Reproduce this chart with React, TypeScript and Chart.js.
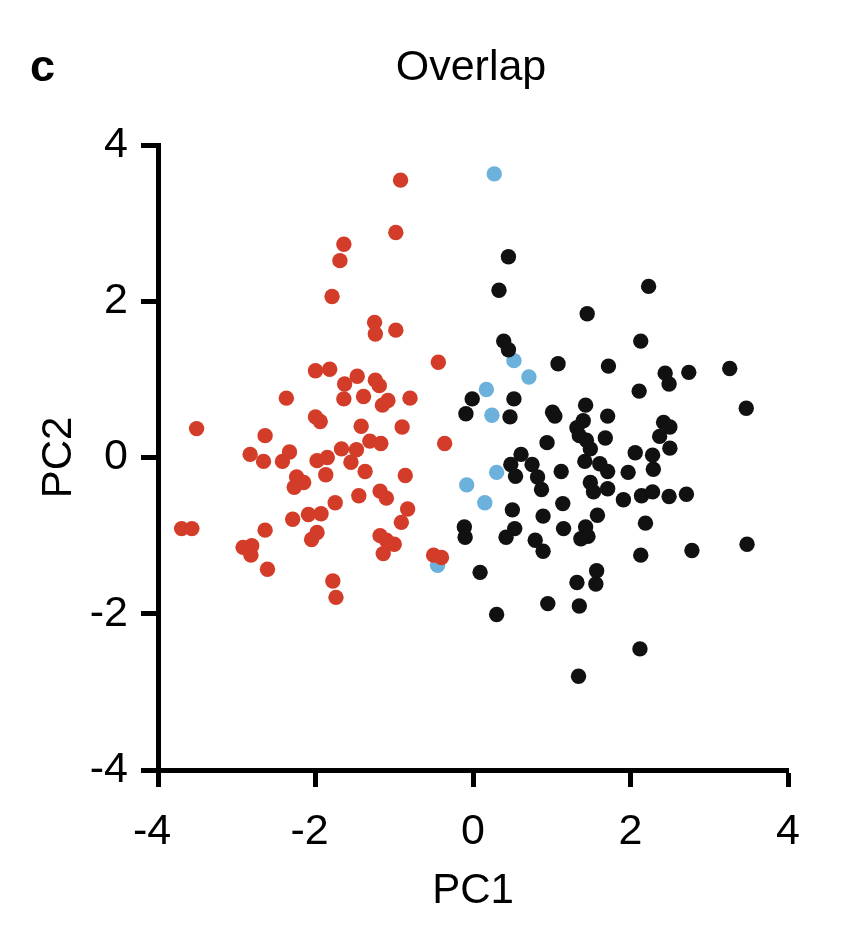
import React, { useEffect, useRef } from "react";
import { Chart, registerables } from "chart.js";

Chart.register(...registerables);

const TITLE = "Overlap";
const PANEL = "c";
const X_LABEL = "PC1";
const Y_LABEL = "PC2";
const TICKS = [-4, -2, 0, 2, 4];

const redX = [-0.92, -0.98, -1.64, -1.69, -1.79, -1.25, -1.24, -0.98, -0.44, -2.0, -1.82, -1.47, -1.63, -1.24, -1.19, -2.37, -1.64, -1.39, -1.08, -1.15, -0.8, -2.0, -1.94, -3.51, -1.42, -0.9, -2.64, -0.36, -1.31, -1.17, -1.67, -1.48, -2.83, -2.66, -2.33, -2.42, -1.98, -1.85, -1.55, -1.37, -1.87, -0.86, -2.24, -2.15, -2.27, -1.75, -1.45, -1.18, -1.1, -0.83, -0.91, -2.29, -2.09, -1.93, -1.98, -2.05, -3.7, -3.57, -2.64, -2.92, -2.81, -2.82, -2.61, -1.18, -1.1, -1.0, -1.14, -0.5, -0.4, -1.78, -1.74];
const redY = [3.55, 2.88, 2.73, 2.52, 2.06, 1.73, 1.58, 1.63, 1.22, 1.11, 1.13, 1.04, 0.94, 0.99, 0.92, 0.76, 0.75, 0.78, 0.73, 0.67, 0.76, 0.52, 0.46, 0.37, 0.4, 0.39, 0.28, 0.18, 0.21, 0.18, 0.11, 0.1, 0.04, -0.05, 0.07, -0.05, -0.04, 0.0, -0.06, -0.18, -0.22, -0.23, -0.25, -0.32, -0.38, -0.58, -0.49, -0.43, -0.52, -0.66, -0.83, -0.79, -0.73, -0.72, -0.96, -1.05, -0.91, -0.91, -0.93, -1.15, -1.13, -1.25, -1.43, -1.0, -1.06, -1.11, -1.23, -1.25, -1.28, -1.58, -1.79];

const blackX = [0.45, 0.33, 2.23, 1.45, 0.39, 0.45, 2.13, 1.08, 1.72, 2.44, 2.49, 2.74, 3.26, 2.11, 3.47, -0.01, 0.52, -0.09, 0.47, 1.01, 1.04, 1.43, 1.71, 2.42, 2.5, 2.37, 2.5, 1.4, 1.32, 1.35, 1.44, 1.49, 1.68, 0.94, 2.06, 2.28, 0.61, 0.48, 0.75, 0.54, 0.82, 0.87, 1.12, 1.42, 1.61, 1.71, 1.49, 1.53, 1.71, 1.97, 2.29, 1.91, 2.14, 2.28, 2.49, 2.71, 0.5, 0.89, 1.14, 1.58, 2.19, -0.11, -0.1, 0.53, 0.42, 0.79, 0.89, 1.15, 1.43, 1.46, 1.37, 2.13, 2.78, 3.48, 0.09, 1.57, 1.56, 1.32, 0.95, 1.35, 0.3, 2.12, 1.34];
const blackY = [2.57, 2.14, 2.19, 1.84, 1.49, 1.38, 1.49, 1.2, 1.17, 1.08, 0.94, 1.09, 1.14, 0.85, 0.63, 0.75, 0.75, 0.56, 0.52, 0.58, 0.53, 0.67, 0.53, 0.45, 0.39, 0.27, 0.12, 0.47, 0.38, 0.28, 0.22, 0.11, 0.25, 0.19, 0.06, 0.03, 0.04, -0.09, -0.09, -0.24, -0.25, -0.41, -0.18, -0.05, -0.08, -0.18, -0.32, -0.44, -0.4, -0.19, -0.15, -0.54, -0.49, -0.44, -0.5, -0.47, -0.67, -0.75, -0.59, -0.74, -0.84, -0.89, -1.02, -0.91, -1.02, -1.06, -1.2, -0.91, -0.89, -1.01, -1.04, -1.25, -1.19, -1.11, -1.47, -1.45, -1.62, -1.6, -1.87, -1.9, -2.01, -2.45, -2.8];

const blueX = [0.27, 0.52, 0.71, 0.17, 0.24, 0.3, -0.08, 0.15, -0.45];
const blueY = [3.63, 1.24, 1.03, 0.87, 0.54, -0.19, -0.35, -0.58, -1.38];

const RED = "#d43c2a";
const BLACK = "#111111";
const BLUE = "#6cb0dc";
const FONT = "'Liberation Sans', Arial, Helvetica, sans-serif";

const pts = (xs: number[], ys: number[]) => xs.map((x, i) => ({ x, y: ys[i] }));

const headerPlugin = {
  id: "header",
  afterDraw(chart: any) {
    const ctx = chart.ctx;
    ctx.save();
    ctx.fillStyle = "#000";
    ctx.textBaseline = "alphabetic";
    ctx.textAlign = "center";
    ctx.font = `43px ${FONT}`;
    ctx.fillText(TITLE, 471, 80);
    ctx.textAlign = "left";
    ctx.font = `bold 45px ${FONT}`;
    ctx.fillText(PANEL, 30, 81);
    ctx.restore();
  },
};

export default function App() {
  const ref = useRef<HTMLCanvasElement>(null);
  useEffect(() => {
    document.body.style.margin = "0";
    const canvas = ref.current!;
    const tickFont = { family: FONT, size: 43 };
    const chart = new Chart(canvas, {
      type: "scatter",
      data: {
        datasets: [
          { data: pts(redX, redY), backgroundColor: RED, pointRadius: 7.7, pointBorderWidth: 0 },
          { data: pts(blackX, blackY), backgroundColor: BLACK, pointRadius: 7.7, pointBorderWidth: 0 },
          { data: pts(blueX, blueY), backgroundColor: BLUE, pointRadius: 7.7, pointBorderWidth: 0 },
        ],
      },
      plugins: [headerPlugin],
      options: {
        animation: false,
        responsive: false,
        maintainAspectRatio: false,
        layout: { padding: { left: 0, right: 60, top: 145, bottom: 0 } },
        plugins: { legend: { display: false }, tooltip: { enabled: false }, title: { display: false } },
        scales: {
          x: {
            type: "linear",
            min: -4,
            max: 4,
            afterFit: (s: any) => { s.height = 168; },
            afterBuildTicks: (s: any) => { s.ticks = TICKS.map((v) => ({ value: v })); },
            border: { display: true, color: "#000", width: 5 },
            grid: { drawOnChartArea: false, drawTicks: true, tickLength: 17, tickWidth: 5, color: "#000" },
            ticks: {
              color: "#000",
              font: tickFont,
              padding: 19,
              maxRotation: 0,
              callback: (v: any) => (Number(v) < 0 ? `${v} ` : `${v}`),
            },
            title: { display: true, text: X_LABEL, color: "#000", font: { family: FONT, size: 42 }, padding: { top: 0, bottom: 21 } },
          },
          y: {
            type: "linear",
            min: -4,
            max: 4,
            afterFit: (s: any) => { s.width = 158; },
            afterBuildTicks: (s: any) => { s.ticks = TICKS.map((v) => ({ value: v })); },
            border: { display: true, color: "#000", width: 5 },
            grid: { drawOnChartArea: false, drawTicks: true, tickLength: 17, tickWidth: 5, color: "#000" },
            ticks: { color: "#000", font: tickFont, padding: 13 },
            title: { display: true, text: Y_LABEL, color: "#000", font: { family: FONT, size: 42 }, padding: { top: 34, bottom: 0 } },
          },
        },
      },
    } as any);
    return () => chart.destroy();
  }, []);
  return <canvas ref={ref} width={848} height={938} style={{ display: "block" }} />;
}
